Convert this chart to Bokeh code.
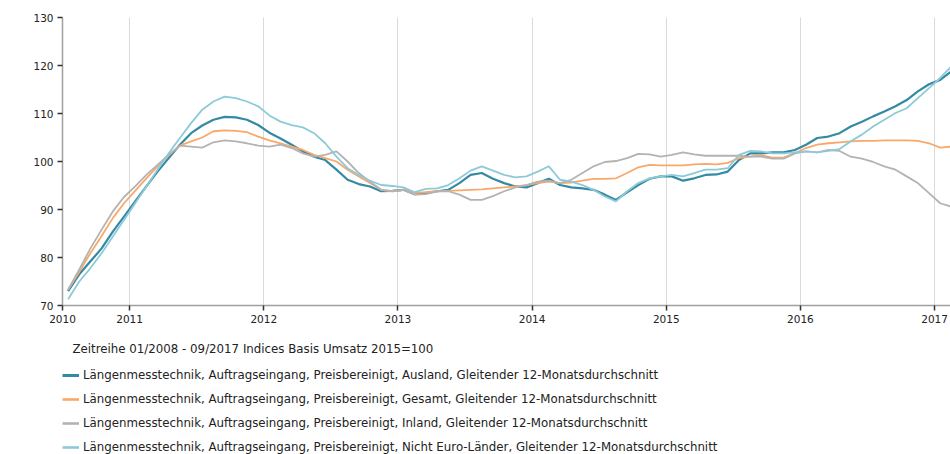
from bokeh.plotting import figure
from bokeh.models import Legend, LegendItem, FixedTicker, Label, Range1d
from bokeh.layouts import column
from bokeh.embed import file_html
from bokeh.resources import INLINE

# Monthly 12-month moving averages, Jul 2010 .. Feb 2017
start_year, start_month = 2010, 7
ausland = [73.0, 76.5, 79.2, 81.9, 85.4, 88.5, 91.7, 94.8, 97.9, 100.7,
           103.5, 105.9, 107.5, 108.7, 109.3, 109.2, 108.7, 107.6, 106.0, 104.8,
           103.5, 102.1, 101.0, 100.3, 98.3, 96.2, 95.3, 94.8, 93.8, 93.9,
           94.1, 93.2, 93.4, 93.8, 94.1, 95.5, 97.2, 97.6, 96.4, 95.5,
           94.8, 94.6, 95.5, 96.4, 95.1, 94.6, 94.4, 94.1, 93.1, 92.0,
           93.6, 95.1, 96.4, 96.9, 96.9, 96.0, 96.5, 97.2, 97.3, 97.9,
           100.3, 101.7, 101.7, 101.9, 101.9, 102.4, 103.5, 104.9, 105.2, 105.9,
           107.3, 108.3, 109.4, 110.4, 111.5, 112.8, 114.6, 116.1, 117.0, 118.8]
gesamt = [73.3, 77.0, 80.9, 84.5, 88.2, 91.3, 93.9, 96.5, 99.0, 101.3,
          103.3, 104.2, 105.0, 106.3, 106.5, 106.4, 106.1, 105.2, 104.4, 103.8,
          103.1, 102.4, 101.4, 100.7, 100.0, 98.3, 96.9, 95.5, 94.1, 93.8,
          94.1, 93.4, 93.6, 93.8, 93.9, 94.0, 94.1, 94.2, 94.4, 94.6,
          94.8, 95.1, 95.5, 95.8, 95.5, 95.6, 96.0, 96.4, 96.4, 96.5,
          97.6, 98.8, 99.3, 99.2, 99.2, 99.2, 99.4, 99.5, 99.4, 99.7,
          100.7, 101.0, 101.3, 100.8, 100.8, 101.7, 102.8, 103.5, 103.8, 104.0,
          104.2, 104.3, 104.3, 104.4, 104.4, 104.4, 104.3, 103.8, 102.9, 103.1]
inland = [73.3, 77.5, 81.9, 85.8, 89.6, 92.6, 94.8, 97.2, 99.3, 101.4,
          103.3, 103.1, 102.9, 104.0, 104.4, 104.2, 103.8, 103.3, 103.1, 103.5,
          102.8, 101.7, 101.0, 101.4, 102.1, 100.0, 97.6, 95.8, 94.1, 93.8,
          94.1, 93.1, 93.2, 93.8, 93.8, 93.1, 92.0, 92.0, 92.8, 93.8,
          94.6, 95.1, 95.8, 96.0, 95.5, 96.2, 97.6, 99.0, 99.9, 100.1,
          100.7, 101.6, 101.5, 101.0, 101.4, 101.9, 101.5, 101.2, 101.2, 101.2,
          101.2, 101.0, 101.0, 100.6, 100.6, 101.7, 102.1, 101.9, 102.4, 102.2,
          101.0, 100.6, 99.9, 99.0, 98.3, 96.9, 95.5, 93.4, 91.3, 90.6]
nicht_euro = [71.3, 75.0, 77.8, 80.9, 84.4, 87.8, 91.3, 94.8, 98.3, 101.7,
              104.9, 108.0, 110.8, 112.5, 113.5, 113.2, 112.5, 111.5, 109.6, 108.3,
              107.6, 107.1, 105.9, 103.8, 101.0, 98.6, 97.2, 96.0, 95.1, 94.9,
              94.6, 93.6, 94.3, 94.4, 95.1, 96.5, 98.1, 99.0, 98.1, 97.2,
              96.7, 96.9, 97.9, 99.0, 96.2, 95.8, 95.1, 94.1, 92.7, 91.7,
              93.8, 95.5, 96.5, 96.9, 97.2, 96.9, 97.6, 98.3, 98.3, 98.6,
              101.4, 102.2, 102.1, 101.7, 101.7, 101.9, 102.1, 101.9, 102.2, 102.6,
              104.2, 105.6, 107.3, 108.7, 110.1, 111.1, 113.2, 115.3, 117.4, 119.8]

series_labels = [
    "Längenmesstechnik, Auftragseingang, Preisbereinigt, Ausland, Gleitender 12-Monatsdurchschnitt",
    "Längenmesstechnik, Auftragseingang, Preisbereinigt, Gesamt, Gleitender 12-Monatsdurchschnitt",
    "Längenmesstechnik, Auftragseingang, Preisbereinigt, Inland, Gleitender 12-Monatsdurchschnitt",
    "Längenmesstechnik, Auftragseingang, Preisbereinigt, Nicht Euro-Länder, Gleitender 12-Monatsdurchschnitt",
]
legend_title = "Zeitreihe 01/2008 - 09/2017 Indices Basis Umsatz 2015=100"
year_ticks = [2010.5, 2011, 2012, 2013, 2014, 2015, 2016, 2017]
y_ticks = [70, 80, 90, 100, 110, 120, 130]

# month mid-points as fractional years
t = [start_year + (start_month - 1 + i + 0.5) / 12.0 for i in range(len(ausland))]

FONT = "DejaVu Sans"
colors = ["#348aa3", "#f9a86a", "#b3b3b3", "#8dcad9"]
widths = [2.2, 1.8, 1.8, 1.8]
data = [ausland, gesamt, inland, nicht_euro]

# ---------------- main chart ----------------
p = figure(width=950, height=328, output_backend="svg", toolbar_location=None,
           x_range=Range1d(2010.5, 2017.1184), y_range=Range1d(70, 130),
           min_border_left=62, min_border_right=0, min_border_top=17,
           min_border_bottom=23)
p.outline_line_color = None
p.background_fill_color = "white"
p.border_fill_color = "white"

p.ygrid.grid_line_color = None
p.xgrid.grid_line_color = "#dadada"
p.xgrid.grid_line_width = 1

p.xaxis.ticker = FixedTicker(ticks=year_ticks)
p.xaxis.major_label_overrides = {2010.5: "2010"}
p.yaxis.ticker = FixedTicker(ticks=y_ticks)

for ax in (p.xaxis[0], p.yaxis[0]):
    ax.axis_line_color = "#a0a0a0"
    ax.axis_line_width = 1.5
    ax.major_tick_line_color = "#333333"
    ax.major_tick_line_width = 1.5
    ax.major_tick_out = 5
    ax.major_tick_in = 0
    ax.minor_tick_line_color = None
    ax.major_label_text_font = FONT
    ax.major_label_text_font_size = "10.5px"
    ax.major_label_text_color = "#222222"
    ax.major_label_standoff = 4

for vals, c, w in zip(data, colors, widths):
    p.line(t, vals, line_color=c, line_width=w, line_join="round")

# ---------------- legend panel ----------------
lg = figure(width=950, height=126, output_backend="svg", toolbar_location=None,
            x_axis_type=None, y_axis_type=None,
            x_range=Range1d(0, 1), y_range=Range1d(0, 1),
            min_border_left=0, min_border_right=0, min_border_top=0,
            min_border_bottom=0)
lg.outline_line_color = None
lg.xgrid.grid_line_color = None
lg.ygrid.grid_line_color = None

# series drawn outside this panel's ranges: only their legend swatches show
legend_renderers = []
for vals, c, w in zip(data, colors, widths):
    r = lg.line(t, vals, line_color=c, line_width=w + 0.8)
    legend_renderers.append(r)

items = [LegendItem(label=lab, renderers=[r]) for lab, r in zip(series_labels, legend_renderers)]
legend = Legend(items=items, location=(0, 0), orientation="vertical",
                padding=0, margin=0, spacing=10, glyph_width=17, glyph_height=14,
                label_height=14, label_standoff=4,
                label_text_font=FONT, label_text_font_size="11.8px",
                label_text_color="#222222", label_text_baseline="middle",
                border_line_color=None, background_fill_alpha=0)
lg.add_layout(legend, "center")

title_label = Label(x=10, y=106, x_units="screen", y_units="screen", text=legend_title,
                    text_font=FONT, text_font_size="11.8px", text_color="#222222",
                    text_baseline="middle", text_align="left")
lg.add_layout(title_label)

layout = column(p, lg, spacing=0)
open("out.html", "w").write(file_html(layout, INLINE))
